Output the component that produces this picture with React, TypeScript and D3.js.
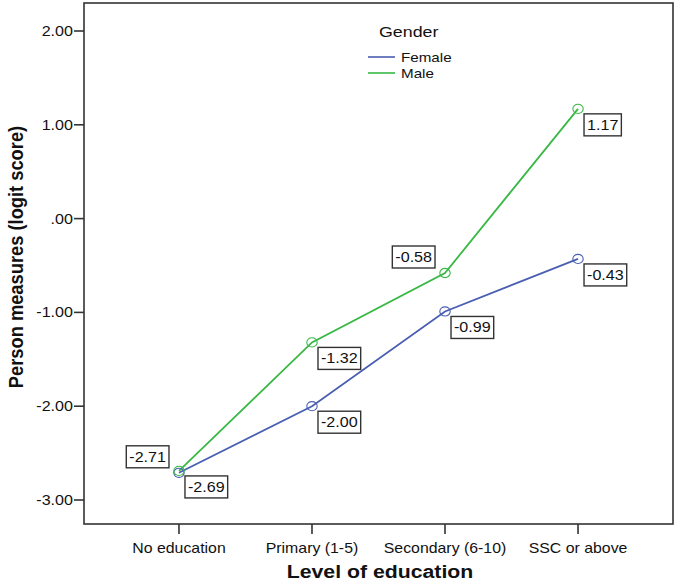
import React from "react";
import * as d3 from "d3";

const categories = ["No education", "Primary (1-5)", "Secondary (6-10)", "SSC or above"];
const femaleValues = [-2.71, -2.0, -0.99, -0.43];
const maleValues = [-2.69, -1.32, -0.58, 1.17];
const femaleLabelPos = ["al", "br", "br", "br"];
const maleLabelPos = ["br", "br", "al", "br"];
const yTicks = [2, 1, 0, -1, -2, -3];
const yTickLabels = ["2.00", "1.00", ".00", "-1.00", "-2.00", "-3.00"];

const W = 678;
const H = 582;
const FONT = "'Liberation Sans', Arial, Helvetica, sans-serif";
const SX = 1.15;
const FEMALE = "#4a5eb2";
const MALE = "#39b845";
const FRAME = { left: 84, right: 673, top: 3, bottom: 524 };

const fmt = (v: number) => v.toFixed(2);

function charW(c: string) {
  if (c === "-") return 0.333;
  if (c === ".") return 0.278;
  return 0.556;
}

function ST({ x, y, anchor = "start", size = 13.5, weight = "normal", fill = "#111", children }: any) {
  return (
    <g transform={`translate(${x},${y}) scale(${SX},1)`}>
      <text x={0} y={0} textAnchor={anchor} fontSize={size} fontWeight={weight} fontFamily={FONT} fill={fill}>
        {children}
      </text>
    </g>
  );
}

export default function App() {
  const x = d3.scalePoint<string>().domain(categories).range([FRAME.left, FRAME.right]).padding(0.714);
  const y = d3.scaleLinear().domain([2, -3]).range([31, 500]);

  const line = d3
    .line<number>()
    .x((_, i) => x(categories[i]) as number)
    .y((d) => y(d));

  const series = [
    { name: "Female", values: femaleValues, pos: femaleLabelPos, color: FEMALE },
    { name: "Male", values: maleValues, pos: maleLabelPos, color: MALE },
  ];

  const labelSize = 14;
  const boxes: any[] = [];
  series.forEach((s) => {
    s.values.forEach((v, i) => {
      const cx = x(categories[i]) as number;
      const cy = y(v);
      const txt = fmt(v);
      const tw = txt.split("").reduce((a, c) => a + charW(c), 0) * labelSize * SX;
      const bw = tw + 6;
      const bh = 22;
      let bx, by;
      if (s.pos[i] === "al") {
        bx = cx - 10 - bw;
        by = cy - 5 - bh;
      } else {
        bx = cx + 6;
        by = cy + 5;
      }
      boxes.push({ key: s.name + i, bx, by, bw, bh, txt });
    });
  });

  return (
    <svg
      width={W}
      height={H}
      style={{ position: "absolute", left: 0, top: 0, display: "block", background: "#fff" }}
    >
      <rect x={0} y={0} width={W} height={H} fill="#fff" />
      {/* frame */}
      <rect
        x={FRAME.left}
        y={FRAME.top}
        width={FRAME.right - FRAME.left}
        height={FRAME.bottom - FRAME.top}
        fill="none"
        stroke="#333"
        strokeWidth={1.6}
      />
      {/* y ticks */}
      {yTicks.map((t, i) => (
        <g key={"yt" + i}>
          <line x1={FRAME.left - 10} x2={FRAME.left} y1={y(t)} y2={y(t)} stroke="#333" strokeWidth={1.6} />
          <ST x={FRAME.left - 11} y={y(t) + 5} anchor="end" size={14}>
            {yTickLabels[i]}
          </ST>
        </g>
      ))}
      {/* x ticks */}
      {categories.map((c) => (
        <g key={"xt" + c}>
          <line x1={x(c)} x2={x(c)} y1={FRAME.bottom} y2={FRAME.bottom + 10} stroke="#333" strokeWidth={1.6} />
          <ST x={x(c)} y={FRAME.bottom + 29} anchor="middle" size={13.8}>
            {c}
          </ST>
        </g>
      ))}
      {/* axis titles */}
      <ST x={380} y={578} anchor="middle" size={18.5} weight="bold" fill="#111">
        Level of education
      </ST>
      <g transform={`translate(23,257) scale(${SX},1) rotate(-90)`}>
        <text x={0} y={0} textAnchor="middle" fontSize={18.3} fontWeight="bold" fontFamily={FONT} fill="#111">
          Person measures (logit score)
        </text>
      </g>
      {/* lines */}
      {series.map((s) => (
        <path key={"l" + s.name} d={line(s.values) || ""} fill="none" stroke={s.color} strokeWidth={1.8} />
      ))}
      {series.map((s) =>
        s.values.map((v, i) => (
          <ellipse
            key={"c" + s.name + i}
            cx={x(categories[i])}
            cy={y(v)}
            rx={5.2}
            ry={4.6}
            fill="none"
            stroke={s.color}
            strokeWidth={1.1}
          />
        ))
      )}
      {/* value labels */}
      {boxes.map((b) => (
        <g key={b.key}>
          <rect x={b.bx} y={b.by} width={b.bw} height={b.bh} fill="#fff" stroke="#333" strokeWidth={1.4} />
          <ST x={b.bx + b.bw / 2} y={b.by + 16} anchor="middle" size={labelSize}>
            {b.txt}
          </ST>
        </g>
      ))}
      {/* legend */}
      <ST x={379} y={37} size={15.5}>
        Gender
      </ST>
      {series.map((s, i) => (
        <g key={"lg" + s.name}>
          <line x1={368} x2={395} y1={57 + i * 16} y2={57 + i * 16} stroke={s.color} strokeWidth={1.6} />
          <ST x={401} y={62 + i * 16} size={13.2}>
            {s.name}
          </ST>
        </g>
      ))}
    </svg>
  );
}
